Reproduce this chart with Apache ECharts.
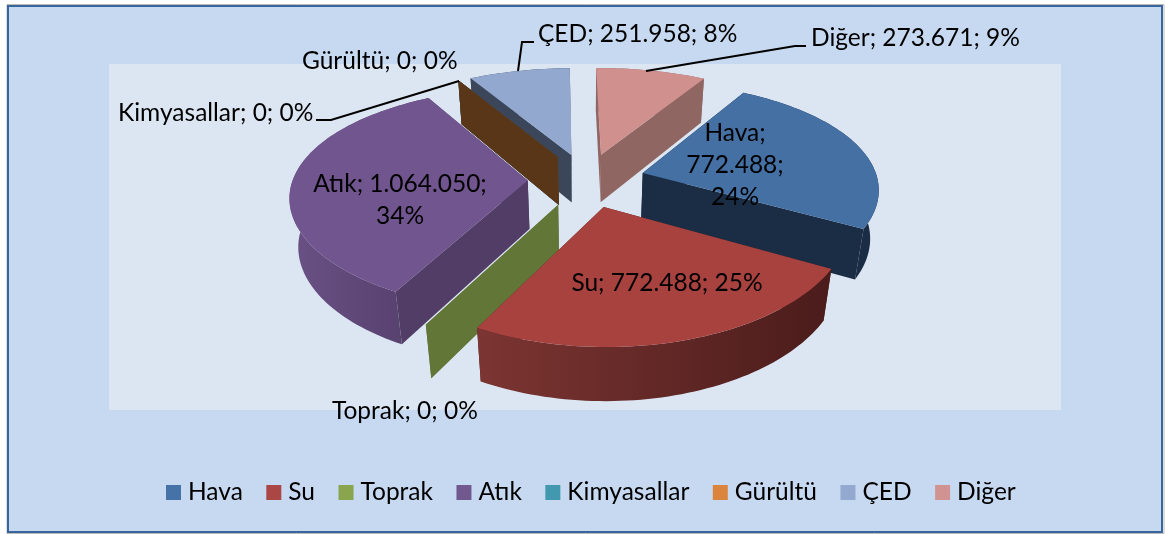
<!DOCTYPE html>
<html><head><meta charset="utf-8">
<style>html,body{margin:0;padding:0;background:#fff}#c{width:1165px;height:534px}</style>
<script src="https://cdn.jsdelivr.net/npm/echarts@6/dist/echarts.min.js"></script>
</head><body><div id="c"></div>
<script>
const categories = ['Hava','Su','Toprak','Atık','Kimyasallar','Gürültü','ÇED','Diğer'];
const values = [772488,772488,0,1064050,0,0,251958,273671];
const percentLabels = ['24%','25%','0%','34%','0%','0%','8%','9%'];
const legendColors = ['#4572a7','#aa4643','#89a54e','#71588f','#4198af','#db843d','#93a9cf','#d19392'];
const topColors = ['#4570a3','#a8423f','#89a54e','#71558e','#4198af','#db843d','#92a8ce','#cf908e'];
const cutColors = ['#1b2d45','#4a1e1c','#627638','#523d66','#2b6b80','#5a3618','#3b465a','#906663'];
const rimLeft = ['#1b2d45','#7c3532','#627638','#6a5185','#2b6b80','#5a3618','#3b465a','#906663'];
const rimRight = ['#1b2d45','#4a1c1b','#627638','#533e6a','#2b6b80','#5a3618','#3b465a','#906663'];
const drawOrder = [6,7,4,5,0,3,2,1];

/* projection of the tilted pie */
const view = {cx:586.5, cy:180, R:235, Ra:108, H:50, bx:0.13, by:0.16, c:0.03, explode:0.25, startDeg:30.5};
const total = values.reduce((a,b)=>a+b,0);
function sliceStart(i){let s=0;for(let k=0;k<i;k++)s+=values[k];return s;}
function project(u,v,z){
  const sx=1/(1+view.bx*v+view.c*z), sy=1/(1+view.by*v+view.c*z);
  return [view.cx+u*view.R*sx, view.cy+(-v*view.Ra+z*view.H)*sy];
}
function renderSlice(index){
  return function(params,api){
    const val=api.value(0);
    const a0=(view.startDeg+sliceStart(index)/total*360)*Math.PI/180;
    const a1=a0+val/total*2*Math.PI;
    const mid=(a0+a1)/2;
    const ou=Math.sin(mid)*view.explode, ov=Math.cos(mid)*view.explode;
    const steps=Math.max(1,Math.ceil((a1-a0)/(Math.PI/120)));
    const rim=[];
    for(let k=0;k<=steps;k++){const t=a0+(a1-a0)*k/steps;rim.push([ou+Math.sin(t),ov+Math.cos(t)]);}
    const top=[project(ou,ov,0)].concat(rim.map(p=>project(p[0],p[1],0)));
    const outer=rim.map(p=>project(p[0],p[1],0)).concat(rim.slice().reverse().map(p=>project(p[0],p[1],1)));
    const quad=(p)=>[project(ou,ov,0),project(p[0],p[1],0),project(p[0],p[1],1),project(ou,ov,1)];
    const poly=(pts,fill)=>({type:'polygon',shape:{points:pts},style:{fill:fill}});
    const children=[];
    children.push(poly(quad(rim[0]),cutColors[index]));
    children.push(poly(quad(rim[rim.length-1]),cutColors[index]));
    if(val>0){
      children.push(poly(outer,{type:'linear',x:0,y:0,x2:1,y2:0,colorStops:[{offset:0,color:rimLeft[index]},{offset:1,color:rimRight[index]}]}));
      children.push(poly(top,topColors[index]));
    }
    return {type:'group',children:children};
  };
}
function fmt(v){return String(v).replace(/\B(?=(\d{3})+(?!\d))/g,'.');}
function labelText(i){return categories[i]+'; '+fmt(values[i])+'; '+percentLabels[i];}

/* label placement */
const labelPlace = [
 {x:735,y:165.5,align:'center',text:'Hava;\n772.488;\n24%'},
 {x:667,y:283,align:'center'},
 {x:332,y:411,align:'left'},
 {x:400,y:200,align:'center',text:'Atık; 1.064.050;\n34%'},
 {x:118,y:113,align:'left'},
 {x:302,y:61,align:'left'},
 {x:538,y:34,align:'left'},
 {x:811,y:38,align:'left'}
];
const leaderLines = [
 [[316,120],[331,120],[459,81]],
 [[534,42],[522,42],[518,71]],
 [[806,46],[795,46],[646,71]]
];
const fontFamily='Lato';
const labelSize=24.5;

const graphics=[
 {type:'rect',z:-11,silent:true,shape:{x:7,y:4.5,width:1157,height:529},style:{fill:'none',stroke:'#bbbbbb',lineWidth:1}},
 {type:'rect',z:-10,silent:true,shape:{x:8,y:6,width:1154,height:526},style:{fill:'#c6d9f1',stroke:'#38659b',lineWidth:2}},
 {type:'rect',z:-9,silent:true,shape:{x:109,y:64,width:952,height:346},style:{fill:'#dce6f2'}}
];
leaderLines.forEach(l=>graphics.push({type:'polyline',z:50,silent:true,shape:{points:l},style:{stroke:'#000',lineWidth:2,fill:null}}));
labelPlace.forEach((p,i)=>graphics.push({type:'text',z:60,silent:true,x:p.x,y:p.y,style:{text:p.text||labelText(i),fill:'#000',font:labelSize+'px '+fontFamily,align:p.align,verticalAlign:'middle',lineHeight:32}}));

const series=drawOrder.map((i,order)=>({
  type:'custom',name:categories[i],coordinateSystem:'none',silent:true,animation:false,z:2+order,
  itemStyle:{color:legendColors[i]},
  renderItem:renderSlice(i),
  data:[[values[i]]]
}));

const chart=echarts.init(document.getElementById('c'),null,{renderer:'canvas'});
chart.setOption({
  animation:false,
  backgroundColor:'#ffffff',
  legend:{data:categories,left:166,top:480,padding:0,itemWidth:15,itemHeight:15,itemGap:23.5,icon:'rect',selectedMode:false,
    textStyle:{fontFamily:fontFamily,fontSize:labelSize,color:'#000',padding:[0,0,0,2]}},
  graphic:graphics,
  series:series
});
</script></body></html>
